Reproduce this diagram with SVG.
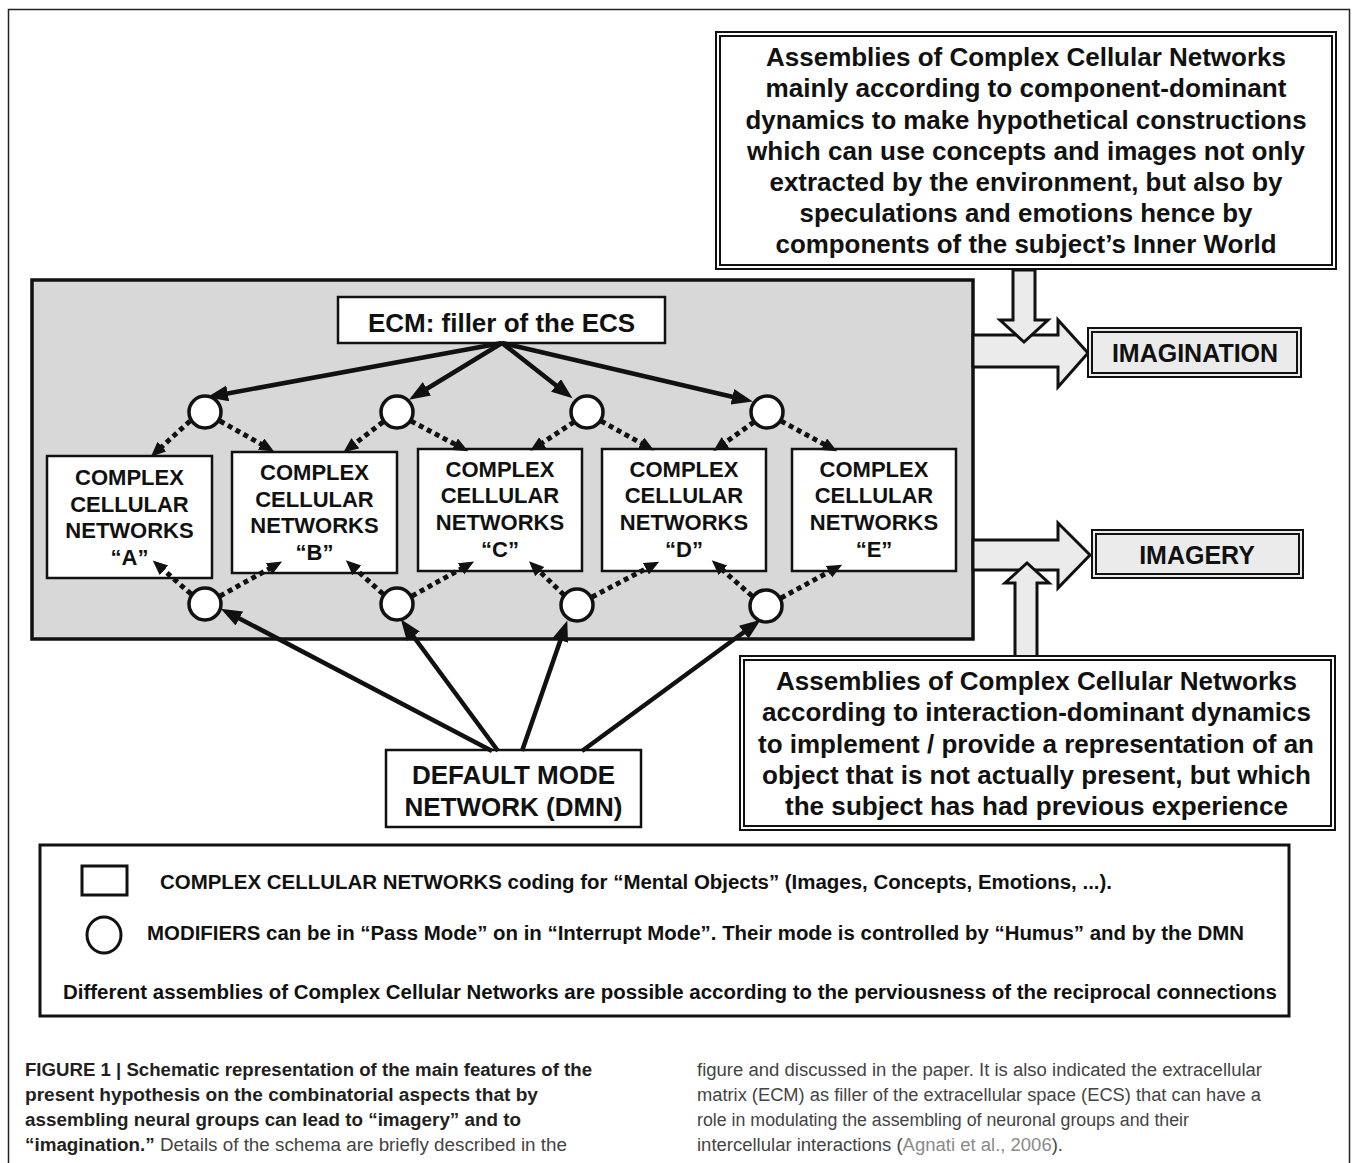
<svg xmlns="http://www.w3.org/2000/svg" width="1357" height="1163" viewBox="0 0 1357 1163">
  <defs>
    <marker id="ah" markerUnits="userSpaceOnUse" markerWidth="22" markerHeight="18" refX="14" refY="8" orient="auto">
      <path d="M0,0 L21,8 L0,16 z" fill="#111"/>
    </marker>
    <marker id="ahs" markerUnits="userSpaceOnUse" markerWidth="16" markerHeight="14" refX="8" refY="6.5" orient="auto">
      <path d="M0,0 L15,6.5 L0,13 z" fill="#111"/>
    </marker>
  </defs>
  <style>
    .t{font-family:"Liberation Sans",Arial,sans-serif;font-weight:bold;fill:#111;text-anchor:middle}
    .l{font-family:"Liberation Sans",Arial,sans-serif;font-weight:bold;fill:#111;font-size:20px}
    .cap{font-family:"Liberation Sans",Arial,sans-serif;font-size:18px;fill:#231f20}
    .capn{font-family:"Liberation Sans",Arial,sans-serif;font-size:18px;fill:#444;font-weight:normal}
    .box{fill:#fff;stroke:#111;stroke-width:2.5}
    .dbl{fill:#fff;stroke:#111;stroke-width:2}
    .mod{fill:#fff;stroke:#111;stroke-width:3.5}
    .solid{stroke:#111;stroke-width:4.5;fill:none;marker-end:url(#ah)}
    .dot{stroke:#111;stroke-width:5;stroke-dasharray:5 4;fill:none;marker-end:url(#ahs)}
    .big{fill:#ebebeb;stroke:#111;stroke-width:3;stroke-linejoin:miter}
  </style>

  <rect width="1357" height="1163" fill="#fff"/>
  <!-- page frame -->
  <path d="M8.5,1163 V9.5 H1349.5 V1163" fill="none" stroke="#222" stroke-width="1.5"/>

  <!-- extracellular space panel -->
  <g id="ecs-panel">
    <rect x="32" y="280" width="941" height="359" fill="#d8d8d8" stroke="#111" stroke-width="3.5"/>
  </g>

  <!-- big block arrows -->
  <g id="block-arrows">
    <polygon class="big" points="973,335 1058,335 1058,320 1088,353 1058,387 1058,367 973,367"/>
    <polygon class="big" points="1013,270 1013,320 1000,320 1024,342 1048,320 1035,320 1035,270"/>
    <polygon class="big" points="973,540 1058,540 1058,523 1090,555 1058,588 1058,570 973,570"/>
    <polygon class="big" points="1015,657 1015,583 1005,583 1027,563 1049,583 1037,583 1037,657"/>
  </g>

  <!-- ECM -->
  <g id="ecm">
    <rect class="box" x="338" y="297" width="327" height="46"/>
    <text class="t" x="501.5" y="332" font-size="26">ECM: filler of the ECS</text>
  </g>

  <!-- complex cellular networks -->
  <g id="ccn-a">
    <rect class="box" x="47" y="456" width="165" height="122"/>
    <text class="t" font-size="22" x="129.5" y="485">COMPLEX</text>
    <text class="t" font-size="22" x="129.5" y="512">CELLULAR</text>
    <text class="t" font-size="22" x="129.5" y="538">NETWORKS</text>
    <text class="t" font-size="22" x="129.5" y="565">“A”</text>
  </g>
  <g id="ccn-b">
    <rect class="box" x="232" y="452" width="165" height="121"/>
    <text class="t" font-size="22" x="314.5" y="480">COMPLEX</text>
    <text class="t" font-size="22" x="314.5" y="507">CELLULAR</text>
    <text class="t" font-size="22" x="314.5" y="533">NETWORKS</text>
    <text class="t" font-size="22" x="314.5" y="560">“B”</text>
  </g>
  <g id="ccn-c">
    <rect class="box" x="418" y="449" width="164" height="122"/>
    <text class="t" font-size="22" x="500" y="477">COMPLEX</text>
    <text class="t" font-size="22" x="500" y="503">CELLULAR</text>
    <text class="t" font-size="22" x="500" y="530">NETWORKS</text>
    <text class="t" font-size="22" x="500" y="557">“C”</text>
  </g>
  <g id="ccn-d">
    <rect class="box" x="602" y="449" width="164" height="122"/>
    <text class="t" font-size="22" x="684" y="477">COMPLEX</text>
    <text class="t" font-size="22" x="684" y="503">CELLULAR</text>
    <text class="t" font-size="22" x="684" y="530">NETWORKS</text>
    <text class="t" font-size="22" x="684" y="557">“D”</text>
  </g>
  <g id="ccn-e">
    <rect class="box" x="792" y="449" width="164" height="122"/>
    <text class="t" font-size="22" x="874" y="477">COMPLEX</text>
    <text class="t" font-size="22" x="874" y="503">CELLULAR</text>
    <text class="t" font-size="22" x="874" y="530">NETWORKS</text>
    <text class="t" font-size="22" x="874" y="557">“E”</text>
  </g>

  <!-- default mode network -->
  <g id="dmn">
    <rect class="box" x="386" y="750" width="255" height="77"/>
    <text class="t" font-size="26" x="513.5" y="784">DEFAULT MODE</text>
    <text class="t" font-size="26" x="513.5" y="816">NETWORK (DMN)</text>
  </g>

  <!-- connectors -->
  <g id="connectors">
    <!-- ECM to upper modifiers -->
    <line class="solid" x1="502" y1="343" x2="214" y2="396"/>
    <line class="solid" x1="502" y1="343" x2="415" y2="396"/>
    <line class="solid" x1="502" y1="343" x2="567" y2="394"/>
    <line class="solid" x1="502" y1="343" x2="746" y2="400"/>
    <!-- DMN to lower modifiers -->
    <line class="solid" x1="492" y1="751" x2="227" y2="612"/>
    <line class="solid" x1="498" y1="751" x2="405" y2="625"/>
    <line class="solid" x1="522" y1="751" x2="565" y2="627"/>
    <line class="solid" x1="582" y1="751" x2="755" y2="624"/>
    <!-- upper modifiers to networks -->
    <line class="dot" x1="190" y1="421" x2="156" y2="452"/>
    <line class="dot" x1="220" y1="421" x2="268" y2="448"/>
    <line class="dot" x1="383" y1="422" x2="349" y2="448"/>
    <line class="dot" x1="411" y1="421" x2="462" y2="448"/>
    <line class="dot" x1="574" y1="422" x2="536" y2="447"/>
    <line class="dot" x1="601" y1="421" x2="648" y2="447"/>
    <line class="dot" x1="754" y1="422" x2="719" y2="447"/>
    <line class="dot" x1="781" y1="421" x2="831" y2="448"/>
    <!-- lower modifiers to networks -->
    <line class="dot" x1="191" y1="594" x2="158" y2="565"/>
    <line class="dot" x1="220" y1="596" x2="276" y2="565"/>
    <line class="dot" x1="383" y1="594" x2="351" y2="565"/>
    <line class="dot" x1="412" y1="596" x2="468" y2="565"/>
    <line class="dot" x1="564" y1="595" x2="534" y2="566"/>
    <line class="dot" x1="592" y1="597" x2="653" y2="565"/>
    <line class="dot" x1="752" y1="596" x2="717" y2="565"/>
    <line class="dot" x1="781" y1="598" x2="836" y2="568"/>
  </g>

  <!-- modifiers -->
  <g id="mod-top-1"><circle class="mod" cx="205" cy="412" r="16"/></g>
  <g id="mod-top-2"><circle class="mod" cx="397" cy="412" r="16"/></g>
  <g id="mod-top-3"><circle class="mod" cx="587" cy="412" r="16"/></g>
  <g id="mod-top-4"><circle class="mod" cx="767" cy="412" r="16"/></g>
  <g id="mod-bot-1"><circle class="mod" cx="205" cy="604" r="16"/></g>
  <g id="mod-bot-2"><circle class="mod" cx="397" cy="604" r="16"/></g>
  <g id="mod-bot-3"><circle class="mod" cx="577" cy="605" r="16"/></g>
  <g id="mod-bot-4"><circle class="mod" cx="766" cy="606" r="16"/></g>

  <!-- component-dominant assemblies -->
  <g id="component-dominant">
    <rect class="dbl" x="716" y="32" width="620" height="237"/>
    <rect class="dbl" x="720" y="36" width="612" height="229"/>
    <text class="t" font-size="26" x="1026" y="66" textLength="520" lengthAdjust="spacingAndGlyphs">Assemblies of Complex Cellular Networks</text>
    <text class="t" font-size="26" x="1026" y="97" textLength="521" lengthAdjust="spacingAndGlyphs">mainly according to component-dominant</text>
    <text class="t" font-size="26" x="1026" y="128.5" textLength="561" lengthAdjust="spacingAndGlyphs">dynamics to make hypothetical constructions</text>
    <text class="t" font-size="26" x="1026" y="159.5" textLength="558" lengthAdjust="spacingAndGlyphs">which can use concepts and images not only</text>
    <text class="t" font-size="26" x="1026" y="191" textLength="513" lengthAdjust="spacingAndGlyphs">extracted by the environment, but also by</text>
    <text class="t" font-size="26" x="1026" y="222" textLength="453" lengthAdjust="spacingAndGlyphs">speculations and emotions hence by</text>
    <text class="t" font-size="26" x="1026" y="253" textLength="501" lengthAdjust="spacingAndGlyphs">components of the subject’s Inner World</text>
  </g>

  <!-- imagination -->
  <g id="imagination">
    <rect x="1088" y="328" width="213" height="49" fill="#ebebeb" stroke="#111" stroke-width="2"/>
    <rect x="1092" y="332" width="205" height="41" fill="none" stroke="#111" stroke-width="2"/>
    <text class="t" font-size="25" x="1195" y="362">IMAGINATION</text>
  </g>

  <!-- imagery -->
  <g id="imagery">
    <rect x="1092" y="530" width="211" height="48" fill="#ebebeb" stroke="#111" stroke-width="2"/>
    <rect x="1096" y="534" width="203" height="40" fill="none" stroke="#111" stroke-width="2"/>
    <text class="t" font-size="25" x="1197" y="564">IMAGERY</text>
  </g>

  <!-- interaction-dominant assemblies -->
  <g id="interaction-dominant">
    <rect class="dbl" x="740" y="656" width="595" height="174"/>
    <rect class="dbl" x="744" y="660" width="587" height="166"/>
    <text class="t" font-size="26" x="1036.5" y="690" textLength="521" lengthAdjust="spacingAndGlyphs">Assemblies of Complex Cellular Networks</text>
    <text class="t" font-size="26" x="1036.5" y="721" textLength="549" lengthAdjust="spacingAndGlyphs">according to interaction-dominant dynamics</text>
    <text class="t" font-size="26" x="1036" y="753" textLength="556" lengthAdjust="spacingAndGlyphs">to implement / provide a representation of an</text>
    <text class="t" font-size="26" x="1036.5" y="784" textLength="549" lengthAdjust="spacingAndGlyphs">object that is not actually present, but which</text>
    <text class="t" font-size="26" x="1036.5" y="815" textLength="503" lengthAdjust="spacingAndGlyphs">the subject has had previous experience</text>
  </g>

  <!-- legend -->
  <g id="legend">
    <rect x="40" y="845" width="1249" height="171" fill="#fff" stroke="#111" stroke-width="3"/>
    <rect x="82" y="866" width="45" height="29" fill="#fff" stroke="#111" stroke-width="3"/>
    <ellipse cx="104" cy="935" rx="17" ry="18" fill="#fff" stroke="#111" stroke-width="3"/>
    <text class="l" x="160" y="889" textLength="952" lengthAdjust="spacingAndGlyphs">COMPLEX CELLULAR NETWORKS coding for “Mental Objects” (Images, Concepts, Emotions, ...).</text>
    <text class="l" x="147" y="940" textLength="1097" lengthAdjust="spacingAndGlyphs">MODIFIERS can be in “Pass Mode” on in “Interrupt Mode”. Their mode is controlled by “Humus” and by the DMN</text>
    <text class="l" x="63" y="999" textLength="1214" lengthAdjust="spacingAndGlyphs">Different assemblies of Complex Cellular Networks are possible according to the perviousness of the reciprocal connections</text>
  </g>

  <!-- caption -->
  <g id="caption">
    <text class="cap" font-weight="bold" x="25" y="1076" textLength="567" lengthAdjust="spacingAndGlyphs">FIGURE 1 | Schematic representation of the main features of the</text>
    <text class="cap" font-weight="bold" x="25" y="1101" textLength="513" lengthAdjust="spacingAndGlyphs">present hypothesis on the combinatorial aspects that by</text>
    <text class="cap" font-weight="bold" x="25" y="1126" textLength="496" lengthAdjust="spacingAndGlyphs">assembling neural groups can lead to “imagery” and to</text>
    <text class="cap" x="25" y="1151" textLength="542" lengthAdjust="spacingAndGlyphs"><tspan font-weight="bold">“imagination.”</tspan><tspan fill="#444"> Details of the schema are briefly described in the</tspan></text>
    <text class="capn" x="697" y="1076" textLength="565" lengthAdjust="spacingAndGlyphs">figure and discussed in the paper. It is also indicated the extracellular</text>
    <text class="capn" x="697" y="1101" textLength="564" lengthAdjust="spacingAndGlyphs">matrix (ECM) as filler of the extracellular space (ECS) that can have a</text>
    <text class="capn" x="697" y="1126" textLength="492" lengthAdjust="spacingAndGlyphs">role in modulating the assembling of neuronal groups and their</text>
    <text class="capn" x="697" y="1151" textLength="366" lengthAdjust="spacingAndGlyphs">intercellular interactions (<tspan fill="#8a8a8a">Agnati et al., 2006</tspan>).</text>
  </g>
</svg>
